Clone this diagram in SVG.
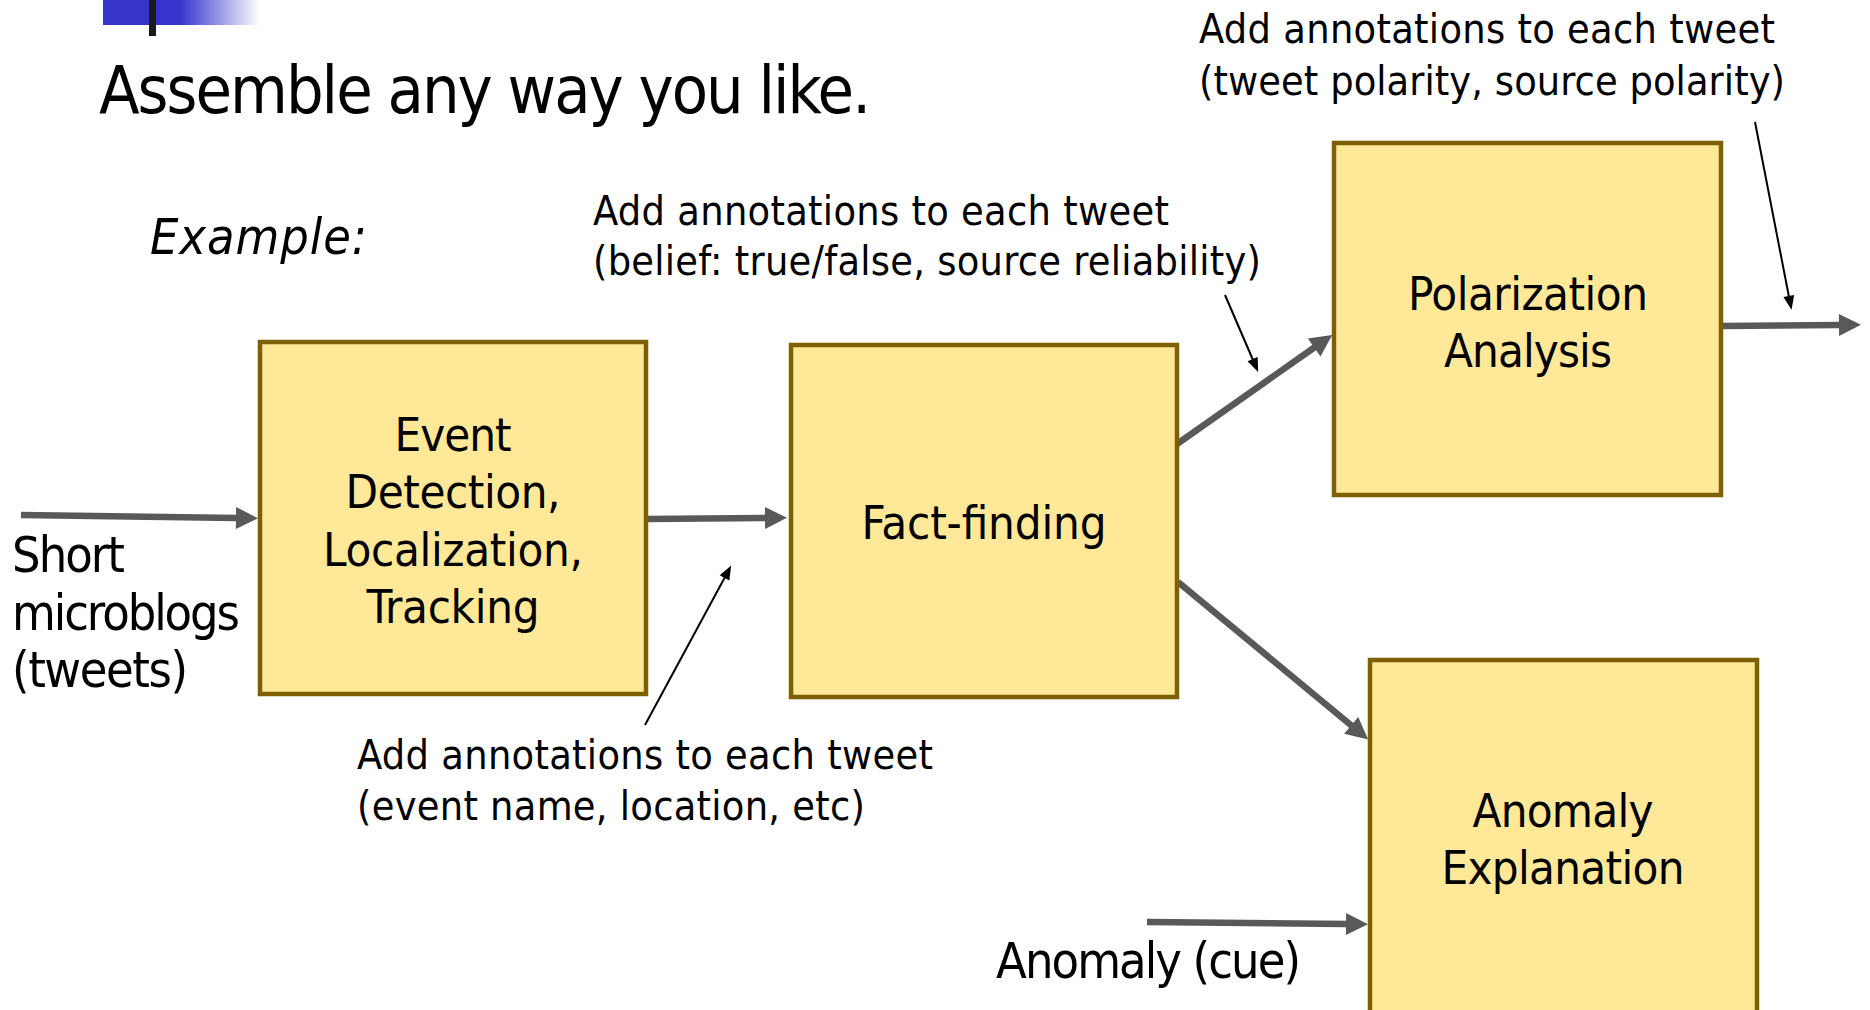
<svg xmlns="http://www.w3.org/2000/svg" width="1870" height="1010" viewBox="0 0 1870 1010">
<defs>
<linearGradient id="blueFade" x1="0" y1="0" x2="1" y2="0">
<stop offset="0" stop-color="#3535CC"/>
<stop offset="1" stop-color="#3535CC" stop-opacity="0"/>
</linearGradient>
<marker id="grayHead" markerUnits="userSpaceOnUse" markerWidth="26" markerHeight="26" refX="1" refY="0" viewBox="0 -13 23 26" orient="auto">
<path d="M0,-11 L22,0 L0,11 z" fill="#595959"/>
</marker>
<marker id="blackHead" markerUnits="userSpaceOnUse" markerWidth="16" markerHeight="14" refX="1" refY="0" viewBox="0 -7 15 14" orient="auto">
<path d="M0,-5.5 L14,0 L0,5.5 z" fill="#000"/>
</marker>
</defs>
<style>
text { font-family: "DejaVu Sans Condensed", "DejaVu Sans", "Liberation Sans", sans-serif; fill: #000; }
.box { fill: #FFE999; stroke: #7F6000; stroke-width: 4.5; }
.lbl { font-size: 47px; text-anchor: middle; }
.ann { font-size: 41px; }
.big { font-size: 50px; }
.flow { stroke: #595959; stroke-width: 6.5; fill: none; marker-end: url(#grayHead); }
.pointer { stroke: #000; stroke-width: 2; fill: none; marker-end: url(#blackHead); }
</style>
<rect width="1870" height="1010" fill="#fff"/>

<g id="header">
<rect x="103" y="0" width="78" height="25" fill="#3535CC"/>
<rect x="180" y="0" width="80" height="25" fill="url(#blueFade)"/>
<rect x="149" y="0" width="7" height="36" fill="#1a1a1a"/>
<text x="99" y="113" font-size="66" textLength="772">Assemble any way you like.</text>
<text x="150" y="254" font-size="50" font-style="italic" textLength="217">Example:</text>
</g>

<g id="connectors">
<path class="flow" d="M21,515 L237,518"/>
<path class="flow" d="M646,519 L766,518"/>
<path class="flow" d="M1177,444 L1315,347"/>
<path class="flow" d="M1178,582 L1352,726"/>
<path class="flow" d="M1721,326 L1840,325"/>
<path class="flow" d="M1147,922 L1347,924"/>
<path class="pointer" d="M645,725 L725,577"/>
<path class="pointer" d="M1225,295 L1253,360"/>
<path class="pointer" d="M1755,122 L1789,297"/>
</g>

<g id="input-label">
<text class="big" x="12" y="572" textLength="113">Short</text>
<text class="big" x="12" y="630" textLength="228">microblogs</text>
<text class="big" x="12" y="687" textLength="176">(tweets)</text>
</g>

<g id="node-event">
<rect class="box" x="260" y="342" width="386" height="352"/>
<text class="lbl" x="453" y="451" textLength="117">Event</text>
<text class="lbl" x="453" y="508" textLength="215">Detection,</text>
<text class="lbl" x="453" y="566" textLength="260">Localization,</text>
<text class="lbl" x="453" y="623" textLength="173">Tracking</text>
</g>

<g id="node-fact">
<rect class="box" x="791" y="345" width="386" height="352"/>
<text class="lbl" x="984" y="539" textLength="245">Fact-finding</text>
</g>

<g id="node-polarization">
<rect class="box" x="1334" y="143" width="387" height="352"/>
<text class="lbl" x="1528" y="310" textLength="240">Polarization</text>
<text class="lbl" x="1528" y="367" textLength="168">Analysis</text>
</g>

<g id="node-anomaly">
<rect class="box" x="1370" y="660" width="387" height="360"/>
<text class="lbl" x="1563" y="827" textLength="181">Anomaly</text>
<text class="lbl" x="1563" y="884" textLength="243">Explanation</text>
</g>

<g id="annotations">
<text class="ann" x="593" y="225" textLength="576">Add annotations to each tweet</text>
<text class="ann" x="593" y="275" textLength="668">(belief: true/false, source reliability)</text>
<text class="ann" x="1199" y="43" textLength="576">Add annotations to each tweet</text>
<text class="ann" x="1199" y="95" textLength="586">(tweet polarity, source polarity)</text>
<text class="ann" x="357" y="769" textLength="576">Add annotations to each tweet</text>
<text class="ann" x="357" y="820" textLength="508">(event name, location, etc)</text>
<text class="big" x="996" y="978" textLength="305">Anomaly (cue)</text>
</g>
</svg>
